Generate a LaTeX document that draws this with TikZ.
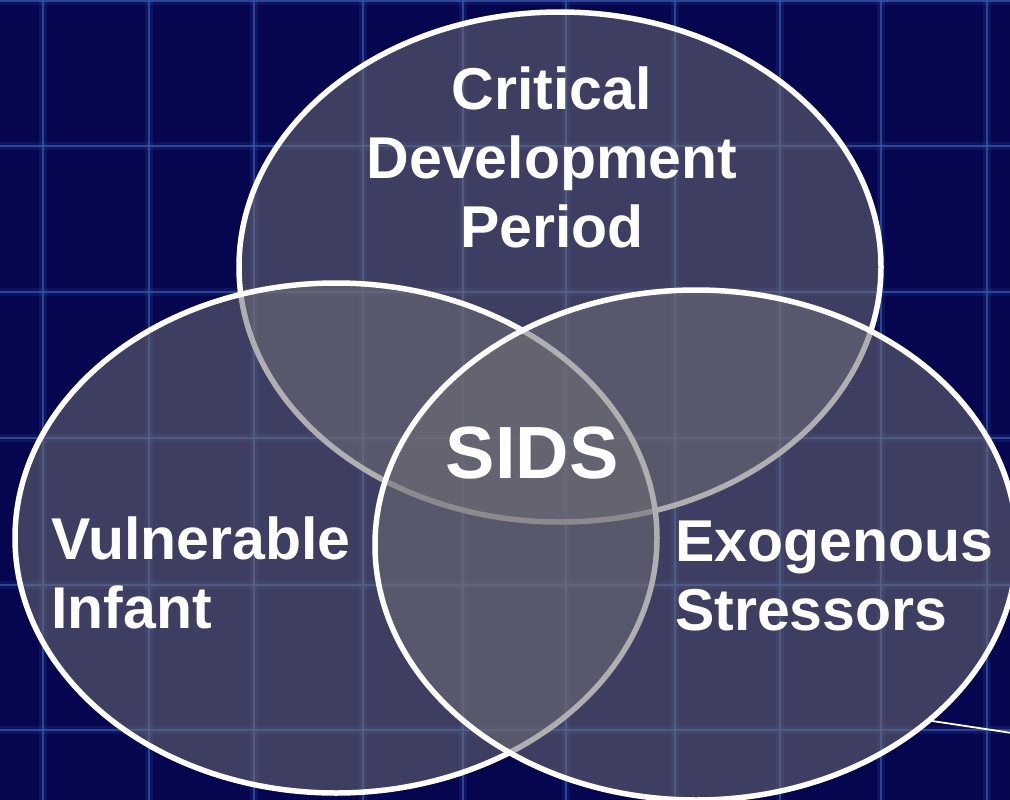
\documentclass[tikz,border=0pt]{standalone}
\usepackage{fontspec}
\setmainfont{Liberation Sans}
\usetikzlibrary{shapes.geometric}
\definecolor{bgc}{RGB}{5,5,80}
\definecolor{gridc}{RGB}{52,88,168}
\definecolor{vfill}{RGB}{110,110,116}
\tikzset{
  venn/.style={ellipse, draw=white, line width=5.5pt, fill=vfill, fill opacity=0.55,
    minimum width=642pt, minimum height=510pt, inner sep=0pt, outer sep=0pt},
  lbl/.style={text=white, font=\bfseries\fontsize{59}{69}\selectfont, inner sep=0pt},
  gridglow/.style={gridc, line width=8pt, opacity=0.18},
  gridline/.style={gridc, line width=1.6pt, opacity=0.75},
  pointer/.style={white, line width=1.8pt},
}
\begin{document}
\begin{tikzpicture}[x=1pt,y=-1pt]
\fill[bgc] (0,0) rectangle (1010,800);
\useasboundingbox (0,0) rectangle (1010,800);
% background grid
\foreach \gx in {43,149,254,363,463,566,675,780,881,987} {
  \draw[gridglow] (\gx,0) -- (\gx,800);
  \draw[gridline] (\gx,0) -- (\gx,800);
}
\foreach \gy in {1,146,292,438,585,730} {
  \draw[gridglow] (0,\gy) -- (1010,\gy);
  \draw[gridline] (0,\gy) -- (1010,\gy);
}
% Venn ellipses
\node[venn] (topE) at (560,267) {};
\node[venn] (leftE) at (336,538) {};
\node[venn] (rightE) at (696,545) {};
% pointer line
\coordinate (lineEnd) at (1012,733);
\draw[pointer] (rightE.-37) -- (lineEnd);
% labels (base anchor = baseline of last line)
\node[lbl, align=center, anchor=base] (cdp) at (552,247) {Critical\\Development\\Period};
\node[lbl, font=\bfseries\fontsize{74}{80}\selectfont, anchor=base] (sids) at (532,478) {SIDS};
\node[lbl, align=left, anchor=base west] (vi) at (51,628) {Vulnerable\\Infant};
\node[lbl, align=left, anchor=base west] (es) at (675,630) {Exogenous\\Stressors};
\end{tikzpicture}
\end{document}
